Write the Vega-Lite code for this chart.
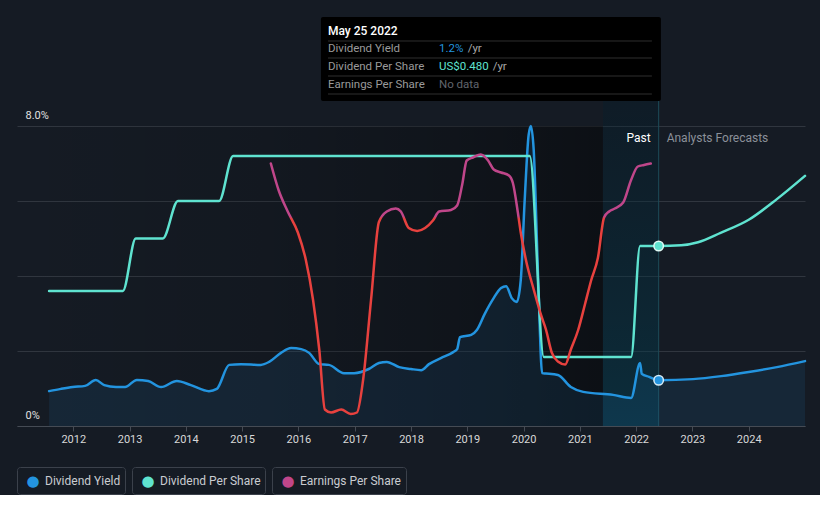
{
  "$schema": "https://vega.github.io/schema/vega-lite/v6.json",
  "background": "#151b24",
  "padding": {"left": 16, "top": 0, "right": 10, "bottom": 0},
  "config": {
    "view": {"stroke": null},
    "font": "Roboto",
    "axis": {"labelFont": "Roboto", "titleFont": "Roboto"},
    "text": {"font": "Roboto"}
  },
  "datasets": {
    "yield": [
      {"t": 2011.57, "v": 0.93}, {"t": 2011.78, "v": 0.99}, {"t": 2011.99, "v": 1.04}, {"t": 2012.21, "v": 1.07},
      {"t": 2012.40, "v": 1.23}, {"t": 2012.55, "v": 1.09}, {"t": 2012.76, "v": 1.04}, {"t": 2012.92, "v": 1.04},
      {"t": 2013.13, "v": 1.23}, {"t": 2013.33, "v": 1.20}, {"t": 2013.56, "v": 1.04}, {"t": 2013.84, "v": 1.20},
      {"t": 2014.09, "v": 1.09}, {"t": 2014.41, "v": 0.93}, {"t": 2014.55, "v": 0.99}, {"t": 2014.77, "v": 1.63},
      {"t": 2014.98, "v": 1.65}, {"t": 2015.33, "v": 1.63}, {"t": 2015.48, "v": 1.71}, {"t": 2015.69, "v": 1.95},
      {"t": 2015.87, "v": 2.08}, {"t": 2016.05, "v": 2.05}, {"t": 2016.19, "v": 1.95}, {"t": 2016.37, "v": 1.65},
      {"t": 2016.54, "v": 1.63}, {"t": 2016.81, "v": 1.41}, {"t": 2016.99, "v": 1.41}, {"t": 2017.25, "v": 1.52},
      {"t": 2017.43, "v": 1.68}, {"t": 2017.57, "v": 1.71}, {"t": 2017.79, "v": 1.57}, {"t": 2018.00, "v": 1.52},
      {"t": 2018.18, "v": 1.49}, {"t": 2018.32, "v": 1.65}, {"t": 2018.53, "v": 1.81}, {"t": 2018.75, "v": 1.97},
      {"t": 2018.82, "v": 2.05}, {"t": 2018.87, "v": 2.37}, {"t": 2019.07, "v": 2.43}, {"t": 2019.17, "v": 2.56},
      {"t": 2019.31, "v": 2.99}, {"t": 2019.46, "v": 3.39}, {"t": 2019.60, "v": 3.68}, {"t": 2019.69, "v": 3.73},
      {"t": 2019.79, "v": 3.41}, {"t": 2019.88, "v": 3.31}, {"t": 2019.95, "v": 3.89}, {"t": 2020.02, "v": 6.03},
      {"t": 2020.09, "v": 7.76}, {"t": 2020.13, "v": 8.00}, {"t": 2020.18, "v": 7.36}, {"t": 2020.26, "v": 3.89},
      {"t": 2020.33, "v": 1.41}, {"t": 2020.40, "v": 1.40}, {"t": 2020.61, "v": 1.36}, {"t": 2020.84, "v": 1.04},
      {"t": 2021.06, "v": 0.91}, {"t": 2021.59, "v": 0.83}, {"t": 2021.91, "v": 0.75}, {"t": 2022.07, "v": 1.68},
      {"t": 2022.10, "v": 1.39}, {"t": 2022.23, "v": 1.31}, {"t": 2022.40, "v": 1.22}, {"t": 2023.01, "v": 1.25},
      {"t": 2023.51, "v": 1.33}, {"t": 2024.00, "v": 1.44}, {"t": 2024.50, "v": 1.57}, {"t": 2025.00, "v": 1.73}
    ],
    "dps": [
      {"t": 2011.57, "v": 0.36}, {"t": 2012.88, "v": 0.36}, {"t": 2013.11, "v": 0.50}, {"t": 2013.59, "v": 0.50},
      {"t": 2013.86, "v": 0.60}, {"t": 2014.59, "v": 0.60}, {"t": 2014.84, "v": 0.72}, {"t": 2020.11, "v": 0.72},
      {"t": 2020.36, "v": 0.184}, {"t": 2021.91, "v": 0.184}, {"t": 2022.07, "v": 0.48}, {"t": 2022.40, "v": 0.48},
      {"t": 2022.80, "v": 0.482}, {"t": 2023.10, "v": 0.49}, {"t": 2023.50, "v": 0.515}, {"t": 2024.00, "v": 0.55},
      {"t": 2024.50, "v": 0.605}, {"t": 2025.00, "v": 0.667}
    ],
    "eps": [
      {"t": 2015.51, "v": 1.75}, {"t": 2015.65, "v": 1.57}, {"t": 2015.81, "v": 1.43}, {"t": 2015.99, "v": 1.29},
      {"t": 2016.13, "v": 1.11}, {"t": 2016.26, "v": 0.84}, {"t": 2016.37, "v": 0.51}, {"t": 2016.47, "v": 0.11},
      {"t": 2016.58, "v": 0.09}, {"t": 2016.76, "v": 0.11}, {"t": 2016.93, "v": 0.08}, {"t": 2017.04, "v": 0.09},
      {"t": 2017.15, "v": 0.31}, {"t": 2017.29, "v": 0.84}, {"t": 2017.43, "v": 1.36}, {"t": 2017.57, "v": 1.43},
      {"t": 2017.73, "v": 1.45}, {"t": 2017.82, "v": 1.43}, {"t": 2017.96, "v": 1.32}, {"t": 2018.11, "v": 1.30},
      {"t": 2018.25, "v": 1.32}, {"t": 2018.39, "v": 1.37}, {"t": 2018.50, "v": 1.43}, {"t": 2018.71, "v": 1.44},
      {"t": 2018.82, "v": 1.47}, {"t": 2018.91, "v": 1.61}, {"t": 2018.99, "v": 1.77}, {"t": 2019.10, "v": 1.79},
      {"t": 2019.24, "v": 1.81}, {"t": 2019.37, "v": 1.77}, {"t": 2019.47, "v": 1.71}, {"t": 2019.60, "v": 1.69},
      {"t": 2019.74, "v": 1.67}, {"t": 2019.81, "v": 1.62}, {"t": 2019.90, "v": 1.42}, {"t": 2019.95, "v": 1.29},
      {"t": 2020.04, "v": 1.11}, {"t": 2020.18, "v": 0.91}, {"t": 2020.31, "v": 0.74}, {"t": 2020.40, "v": 0.64},
      {"t": 2020.50, "v": 0.49}, {"t": 2020.61, "v": 0.43}, {"t": 2020.74, "v": 0.41}, {"t": 2020.84, "v": 0.51},
      {"t": 2020.97, "v": 0.64}, {"t": 2021.09, "v": 0.81}, {"t": 2021.20, "v": 0.97}, {"t": 2021.32, "v": 1.12},
      {"t": 2021.43, "v": 1.39}, {"t": 2021.52, "v": 1.43}, {"t": 2021.62, "v": 1.45}, {"t": 2021.77, "v": 1.49},
      {"t": 2021.91, "v": 1.64}, {"t": 2022.03, "v": 1.73}, {"t": 2022.14, "v": 1.74}, {"t": 2022.26, "v": 1.75}
    ],
    "regions": [
      {"start": 2011.0, "end": 2021.41, "kind": "past"},
      {"start": 2021.41, "end": 2022.40, "kind": "band"}
    ],
    "one": [{}]
  },
  "spacing": 22,
  "vconcat": [
    {
      "width": 788,
      "height": 426,
      "resolve": {"scale": {"y": "independent"}},
      "layer": [
        {
          "layer": [
            {
              "data": {"name": "regions"},
              "transform": [{"filter": "datum.kind == 'past'"}],
              "mark": {"type": "rect", "fill": {"gradient": "linear", "x1": 0, "y1": 0, "x2": 1, "y2": 0,
                "stops": [
                  {"offset": 0, "color": "rgba(0,0,0,0)"},
                  {"offset": 0.4, "color": "rgba(0,0,0,0.1)"},
                  {"offset": 0.75, "color": "rgba(0,0,0,0.26)"},
                  {"offset": 1, "color": "rgba(0,0,0,0.42)"}
                ]}},
              "encoding": {
                "x": {"field": "start", "type": "quantitative", "title": null, "scale": {"domain": [2011, 2025], "nice": false, "zero": false}},
                "x2": {"field": "end"},
                "y": {"datum": 0, "scale": {"domain": [0, 11.36], "nice": false}},
                "y2": {"datum": 8}
              }
            },
            {
              "data": {"name": "regions"},
              "transform": [{"filter": "datum.kind == 'band'"}],
              "mark": {"type": "rect", "fill": {"gradient": "linear", "x1": 0, "y1": 0, "x2": 0, "y2": 1,
                "stops": [
                  {"offset": 0, "color": "rgba(0,30,45,0.3)"},
                  {"offset": 1, "color": "rgba(0,67,87,0.45)"}
                ]}},
              "encoding": {
                "x": {"field": "start", "type": "quantitative", "title": null},
                "x2": {"field": "end"},
                "y": {"datum": 0},
                "y2": {"datum": 8.667}
              }
            },
            {
              "data": {"name": "one"},
              "mark": {"type": "rule", "color": "#1d4b58", "strokeWidth": 1},
              "encoding": {
                "x": {"datum": 2022.4},
                "y": {"datum": 0},
                "y2": {"datum": 8.667}
              }
            },
            {
              "data": {"name": "yield"},
              "mark": {"type": "area", "interpolate": "monotone", "color": "#2394df", "fillOpacity": 0.1},
              "encoding": {
                "x": {"field": "t", "type": "quantitative", "title": null,
                  "scale": {"domain": [2011, 2025], "nice": false, "zero": false},
                  "axis": {"values": [2012, 2013, 2014, 2015, 2016, 2017, 2018, 2019, 2020, 2021, 2022, 2023, 2024],
                    "format": "d", "grid": false, "domainColor": "#454b54", "tickColor": "#454b54", "tickSize": 5,
                    "labelColor": "#d8d8d8", "labelFontSize": 11, "labelPadding": 2, "labelFlush": false}},
                "y": {"field": "v", "type": "quantitative", "title": null,
                  "scale": {"domain": [0, 11.36], "nice": false},
                  "axis": {"values": [0, 2, 4, 6, 8],
                    "labelExpr": "datum.value == 0 ? '0%' : (datum.value == 8 ? '8.0%' : '')",
                    "grid": true, "gridColor": "#30363f", "domain": false, "ticks": false, "tickSize": 0,
                    "labelAlign": "left", "labelPadding": -8, "labelBaseline": "alphabetic", "labelOffset": -8,
                    "labelColor": "#e0e0e0", "labelFontSize": 11}}
              }
            },
            {
              "data": {"name": "yield"},
              "mark": {"type": "line", "interpolate": "monotone", "color": "#2394df", "strokeWidth": 2.5, "strokeCap": "round"},
              "encoding": {
                "x": {"field": "t", "type": "quantitative", "title": null},
                "y": {"field": "v", "type": "quantitative", "title": null}
              }
            },
            {
              "data": {"values": [{"t": 2022.4, "v": 1.22}]},
              "mark": {"type": "point", "filled": true, "size": 90, "color": "#2394df", "stroke": "#d6ecf7", "strokeWidth": 1.5, "opacity": 1},
              "encoding": {
                "x": {"field": "t", "type": "quantitative", "title": null},
                "y": {"field": "v", "type": "quantitative", "title": null}
              }
            },
            {
              "data": {"name": "one"},
              "mark": {"type": "text", "text": "Past", "align": "right", "baseline": "middle", "dx": -8, "fontSize": 12, "color": "#ffffff"},
              "encoding": {"x": {"datum": 2022.4}, "y": {"datum": 7.68}}
            },
            {
              "data": {"name": "one"},
              "mark": {"type": "text", "text": "Analysts Forecasts", "align": "left", "baseline": "middle", "dx": 8, "fontSize": 12, "color": "#8b9099"},
              "encoding": {"x": {"datum": 2022.4}, "y": {"datum": 7.68}}
            },
            {
              "data": {"name": "one"},
              "mark": {"type": "rect", "fill": "#000000", "cornerRadius": 2},
              "encoding": {"x": {"datum": 2016.40}, "x2": {"datum": 2022.44}, "y": {"datum": 10.907}, "y2": {"datum": 8.667}}
            },
            {
              "data": {"name": "one"},
              "mark": {"type": "rule", "color": "#2e2e2e", "strokeWidth": 1},
              "encoding": {"x": {"datum": 2016.525}, "x2": {"datum": 2022.28}, "y": {"datum": 10.267}}
            },
            {
              "data": {"name": "one"},
              "mark": {"type": "rule", "color": "#2e2e2e", "strokeWidth": 1},
              "encoding": {"x": {"datum": 2016.525}, "x2": {"datum": 2022.28}, "y": {"datum": 9.813}}
            },
            {
              "data": {"name": "one"},
              "mark": {"type": "rule", "color": "#2e2e2e", "strokeWidth": 1},
              "encoding": {"x": {"datum": 2016.525}, "x2": {"datum": 2022.28}, "y": {"datum": 9.333}}
            },
            {
              "data": {"name": "one"},
              "mark": {"type": "rule", "color": "#2e2e2e", "strokeWidth": 1},
              "encoding": {"x": {"datum": 2016.525}, "x2": {"datum": 2022.28}, "y": {"datum": 8.853}}
            },
            {
              "data": {"name": "one"},
              "mark": {"type": "text", "text": "May 25 2022", "align": "left", "baseline": "middle", "fontSize": 12, "fontWeight": 500, "color": "#ffffff"},
              "encoding": {"x": {"datum": 2016.525}, "y": {"datum": 10.541}}
            },
            {
              "data": {"name": "one"},
              "mark": {"type": "text", "text": "Dividend Yield", "align": "left", "baseline": "middle", "fontSize": 11.5, "color": "#9a9a9a"},
              "encoding": {"x": {"datum": 2016.525}, "y": {"datum": 10.061}}
            },
            {
              "data": {"name": "one"},
              "mark": {"type": "text", "text": "Dividend Per Share", "align": "left", "baseline": "middle", "fontSize": 11.5, "color": "#9a9a9a"},
              "encoding": {"x": {"datum": 2016.525}, "y": {"datum": 9.581}}
            },
            {
              "data": {"name": "one"},
              "mark": {"type": "text", "text": "Earnings Per Share", "align": "left", "baseline": "middle", "fontSize": 11.5, "color": "#9a9a9a"},
              "encoding": {"x": {"datum": 2016.525}, "y": {"datum": 9.101}}
            },
            {
              "data": {"name": "one"},
              "mark": {"type": "text", "text": "1.2%", "align": "left", "baseline": "middle", "fontSize": 11.5, "color": "#2394df"},
              "encoding": {"x": {"datum": 2018.497}, "y": {"datum": 10.061}}
            },
            {
              "data": {"name": "one"},
              "mark": {"type": "text", "text": "/yr", "align": "left", "baseline": "middle", "dx": 3, "fontSize": 11.5, "color": "#a8a8a8"},
              "encoding": {"x": {"datum": 2018.953}, "y": {"datum": 10.061}}
            },
            {
              "data": {"name": "one"},
              "mark": {"type": "text", "text": "US$0.480", "align": "left", "baseline": "middle", "fontSize": 11.5, "color": "#5fe3d0"},
              "encoding": {"x": {"datum": 2018.497}, "y": {"datum": 9.581}}
            },
            {
              "data": {"name": "one"},
              "mark": {"type": "text", "text": "/yr", "align": "left", "baseline": "middle", "dx": 3, "fontSize": 11.5, "color": "#a8a8a8"},
              "encoding": {"x": {"datum": 2019.397}, "y": {"datum": 9.581}}
            },
            {
              "data": {"name": "one"},
              "mark": {"type": "text", "text": "No data", "align": "left", "baseline": "middle", "fontSize": 11.5, "color": "#60656d"},
              "encoding": {"x": {"datum": 2018.497}, "y": {"datum": 9.101}}
            }
          ]
        },
        {
          "layer": [
            {
              "data": {"name": "dps"},
              "mark": {"type": "line", "interpolate": "monotone", "color": "#5fe3d0", "strokeWidth": 2.5, "strokeCap": "round"},
              "encoding": {
                "x": {"field": "t", "type": "quantitative", "title": null},
                "y": {"field": "v", "type": "quantitative", "title": null, "scale": {"domain": [0, 1.136], "nice": false}, "axis": null}
              }
            },
            {
              "data": {"values": [{"t": 2022.4, "v": 0.48}]},
              "mark": {"type": "point", "filled": true, "size": 90, "color": "#5fe3d0", "stroke": "#e2fbf6", "strokeWidth": 1.5, "opacity": 1},
              "encoding": {
                "x": {"field": "t", "type": "quantitative", "title": null},
                "y": {"field": "v", "type": "quantitative", "title": null}
              }
            }
          ]
        },
        {
          "data": {"name": "eps"},
          "mark": {"type": "line", "interpolate": "monotone", "strokeWidth": 2.5, "strokeCap": "round",
            "stroke": {"gradient": "linear", "x1": 0, "y1": 0, "x2": 0, "y2": 1,
              "stops": [
                {"offset": 0, "color": "#c0468a"},
                {"offset": 0.238, "color": "#c0468a"},
                {"offset": 0.248, "color": "#e8413e"},
                {"offset": 1, "color": "#e8413e"}
              ]}},
          "encoding": {
            "x": {"field": "t", "type": "quantitative", "title": null},
            "y": {"field": "v", "type": "quantitative", "title": null, "scale": {"domain": [0, 2.84], "nice": false}, "axis": null}
          }
        }
      ]
    },
    {
      "spacing": 5,
      "hconcat": [
        {
          "width": 108, "height": 27,
          "view": {"stroke": "#3b414b", "cornerRadius": 3, "strokeWidth": 1},
          "data": {"values": [{"s": "Dividend Yield"}]},
          "layer": [
            {
              "mark": {"type": "text", "text": "●", "font": "DejaVu Sans", "dx": -38, "fontSize": 15, "baseline": "middle", "align": "center"},
              "encoding": {"color": {"field": "s", "type": "nominal", "legend": null,
                "scale": {"domain": ["Dividend Yield", "Dividend Per Share", "Earnings Per Share"], "range": ["#2394df", "#5fe3d0", "#c0468a"]}}}
            },
            {
              "mark": {"type": "text", "dx": -26, "fontSize": 12, "baseline": "middle", "align": "left", "color": "#c9ccd1"},
              "encoding": {"text": {"field": "s"}}
            }
          ]
        },
        {
          "width": 133, "height": 27,
          "view": {"stroke": "#3b414b", "cornerRadius": 3, "strokeWidth": 1},
          "data": {"values": [{"s": "Dividend Per Share"}]},
          "layer": [
            {
              "mark": {"type": "text", "text": "●", "font": "DejaVu Sans", "dx": -50.5, "fontSize": 15, "baseline": "middle", "align": "center"},
              "encoding": {"color": {"field": "s", "type": "nominal", "legend": null,
                "scale": {"domain": ["Dividend Yield", "Dividend Per Share", "Earnings Per Share"], "range": ["#2394df", "#5fe3d0", "#c0468a"]}}}
            },
            {
              "mark": {"type": "text", "dx": -38.5, "fontSize": 12, "baseline": "middle", "align": "left", "color": "#c9ccd1"},
              "encoding": {"text": {"field": "s"}}
            }
          ]
        },
        {
          "width": 134, "height": 27,
          "view": {"stroke": "#3b414b", "cornerRadius": 3, "strokeWidth": 1},
          "data": {"values": [{"s": "Earnings Per Share"}]},
          "layer": [
            {
              "mark": {"type": "text", "text": "●", "font": "DejaVu Sans", "dx": -51, "fontSize": 15, "baseline": "middle", "align": "center"},
              "encoding": {"color": {"field": "s", "type": "nominal", "legend": null,
                "scale": {"domain": ["Dividend Yield", "Dividend Per Share", "Earnings Per Share"], "range": ["#2394df", "#5fe3d0", "#c0468a"]}}}
            },
            {
              "mark": {"type": "text", "dx": -39, "fontSize": 12, "baseline": "middle", "align": "left", "color": "#c9ccd1"},
              "encoding": {"text": {"field": "s"}}
            }
          ]
        }
      ]
    }
  ]
}
